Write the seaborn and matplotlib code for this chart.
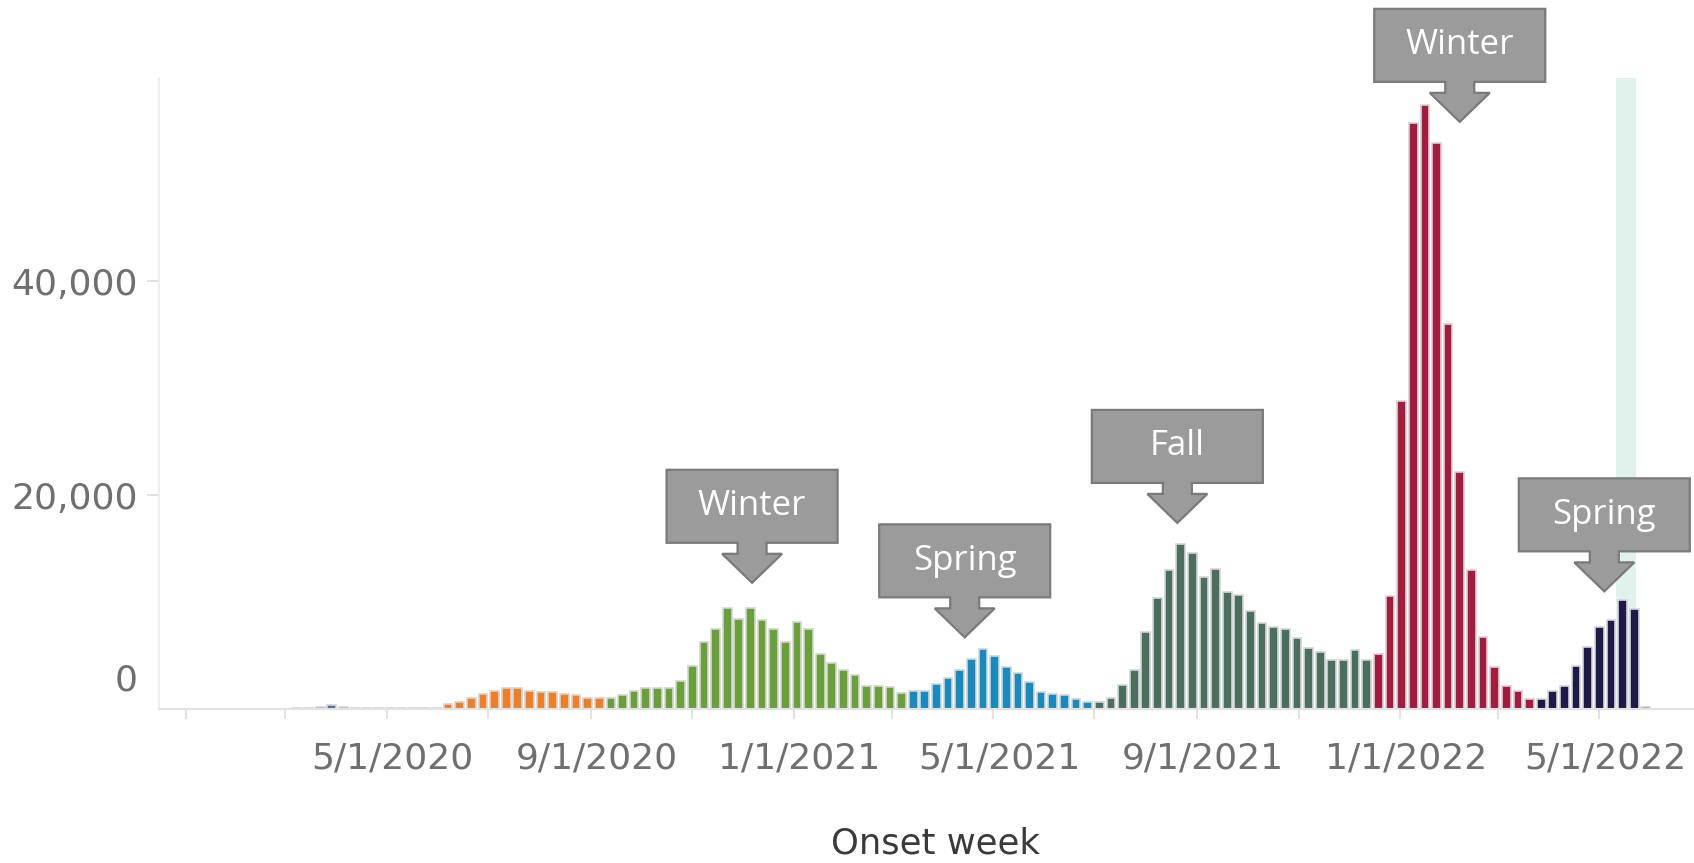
import matplotlib
matplotlib.use("Agg")
import matplotlib.pyplot as plt
import matplotlib.dates as mdates
import matplotlib.transforms as mtransforms
from matplotlib.patches import Polygon
import pandas as pd
import seaborn as sns

sns.set_theme(style="white")
plt.rcParams["font.family"] = ["DejaVu Sans"]

# weekly case counts by onset week, one list per wave
first_week = "2020-03-08"
early = [120, 130, 160, 400, 170, 140, 130, 130, 130, 130, 120, 120, 110]
summer_2020 = [440, 700, 1070, 1380, 1650, 1930, 1930, 1650, 1620, 1620,
               1370, 1310, 1030, 1030]
winter_2021 = [1000, 1340, 1680, 1930, 1930, 1930, 2650, 4000, 6300, 7500,
               9400, 8400, 9400, 8350, 7480, 6290, 8100, 7480, 5110, 4270,
               3600, 3150, 2150, 2150, 2050, 1460]
spring_2021 = [1680, 1680, 2300, 2930, 3640, 4650, 5650, 4950, 3960, 3330,
               2550, 1620, 1370, 1310, 930, 685]
fall_2021 = [685, 1060, 2240, 3640, 7230, 10400, 12990, 15400, 14600, 12370,
             13080, 10960, 10650, 9160, 8010, 7690, 7480, 6600, 5730, 5360,
             4580, 4580, 5510, 4580]
winter_2022 = [5160, 10580, 28830, 54800, 56520, 52890, 36010, 22150, 12980,
               6760, 3930, 2180, 1640, 950]
spring_2022 = [950, 1640, 2180, 4010, 5800, 7640, 8360, 10200, 9360, 150]

seasons = ["Early 2020", "Summer 2020", "Winter 2020-21", "Spring 2021",
           "Fall 2021", "Winter 2021-22", "Spring 2022"]
season_values = [early, summer_2020, winter_2021, spring_2021, fall_2021,
                 winter_2022, spring_2022]
season_colors = ["#4a6fa5", "#ef7f25", "#6aa038", "#168bc0", "#4b6f5f",
                 "#a51a3f", "#1d1a4a"]

callout_labels = ["Winter", "Spring", "Fall", "Winter", "Spring"]
callout_dates = ["2020-12-07", "2021-04-14", "2021-08-20", "2022-02-06",
                 "2022-05-04"]
callout_values = [11800, 6700, 17400, 54900, 11000]

tick_dates = pd.date_range("2020-01-01", "2022-05-01", freq="2MS")
tick_labels = ["", "", "5/1/2020", "", "9/1/2020", "", "1/1/2021", "",
               "5/1/2021", "", "9/1/2021", "", "1/1/2022", "", "5/1/2022"]

highlight = ("2022-05-11", "2022-05-23")
x_range = ("2019-12-16", "2022-06-27")
y_max = 59000

# build long table
rows = []
for name, vals in zip(seasons, season_values):
    for v in vals:
        rows.append((name, v))
df = pd.DataFrame(rows, columns=["season", "cases"])
df["week"] = pd.date_range(first_week, periods=len(df), freq="7D")
df["x"] = mdates.date2num(df["week"])

W, H = 1694, 863
fig = plt.figure(figsize=(W / 100, H / 100), dpi=100)
ax = fig.add_axes([159 / W, 1 - 709 / H, (W - 159) / W, (709 - 78) / H])

ax.axvspan(mdates.datestr2num(highlight[0]), mdates.datestr2num(highlight[1]),
           color="#dff2ec", zorder=0, lw=0)

sns.barplot(data=df, x="x", y="cases", hue="season", hue_order=seasons,
            palette=dict(zip(seasons, season_colors)), native_scale=True,
            dodge=False, width=0.75, errorbar=None, edgecolor="#d4d4d4",
            linewidth=1.2, saturation=1, legend=False, ax=ax)

ax.set_xlim(mdates.datestr2num(x_range[0]), mdates.datestr2num(x_range[1]))
ax.set_ylim(0, y_max)

ax.set_xticks(mdates.date2num(tick_dates))
ax.set_xticklabels(tick_labels)
ax.set_yticks([20000, 40000])
ax.set_yticklabels(["20,000", "40,000"])
ax.tick_params(axis="x", length=7, width=1.2, color="#dcdcdc", pad=16.5,
               labelsize=26, labelcolor="#6f6f6f", bottom=True)
ax.tick_params(axis="y", length=8.6, width=1.2, color="#dcdcdc", pad=6.5,
               labelsize=26, labelcolor="#6f6f6f", left=True)

# date labels sit a few pixels right of their ticks
shift = mtransforms.ScaledTranslation(0.06, 0, fig.dpi_scale_trans)
for lbl in ax.get_xticklabels():
    lbl.set_transform(lbl.get_transform() + shift)

# zero label sits a bit above the baseline in the original
zero_off = mtransforms.ScaledTranslation(-0.21, 0.29, fig.dpi_scale_trans)
ax.text(0, 0, "0", transform=ax.get_yaxis_transform() + zero_off,
        ha="right", va="center", fontsize=26, color="#6f6f6f")

ax.set_xlabel("Onset week", fontsize=25.5, color="#3a3a3a")
ax.xaxis.set_label_coords(0.506, -0.186)
ax.set_ylabel("")

for side in ["top", "right"]:
    ax.spines[side].set_visible(False)
ax.spines["left"].set_color("#efefef")
ax.spines["left"].set_linewidth(1.5)
ax.spines["bottom"].set_color("#e2e2e2")
ax.spines["bottom"].set_linewidth(1.5)

# callout arrows (pixel shape anchored to the tip)
shape = [(0, 0), (30, 29), (14.5, 29), (14.5, 40), (85.5, 40), (85.5, 113),
         (-85.5, 113), (-85.5, 40), (-14.5, 40), (-14.5, 29), (-30, 29)]
for lab, d, v in zip(callout_labels, callout_dates, callout_values):
    tx, ty = ax.transData.transform((mdates.datestr2num(d), v))
    pts = [(tx + a, ty + b) for a, b in shape]
    poly = Polygon(pts, closed=True, facecolor="#9b9b9b", edgecolor="#7a7a7a",
                   lw=1.6, transform=mtransforms.IdentityTransform(),
                   zorder=5)
    fig.add_artist(poly)
    fig.text(tx / W, (ty + 76.5) / H, lab, ha="center", va="center",
             fontsize=25, color="white", family=["Open Sans", "DejaVu Sans"],
             zorder=6)

fig.savefig("out.png", dpi=100)
